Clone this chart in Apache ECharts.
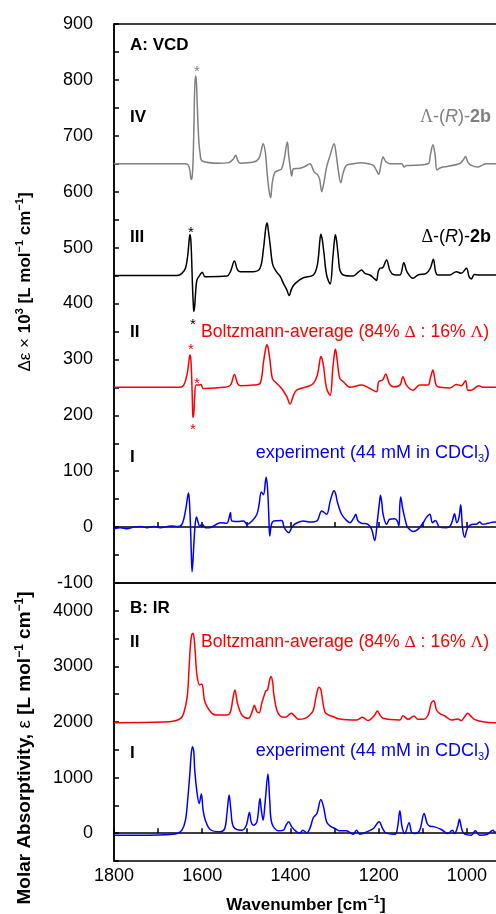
<!DOCTYPE html>
<html>
<head>
<meta charset="utf-8">
<script src="https://cdn.jsdelivr.net/npm/echarts@6/dist/echarts.min.js"></script>
<style>
  html, body { margin: 0; padding: 0; background: #fff; overflow: hidden; }
  #chart { width: 520px; height: 914px; }
</style>
</head>
<body>
<div id="chart"></div>
<script>
// VCD trace IV: Λ-(R)-2b (offset +650)
const wnIV = [1800,1640,1632,1628,1625,1623,1621,1619,1617,1615,1613,1611,1608,1605,1600,1560,1540,1530,1524,1519,1514,1484,1472,1466,1462,1457,1453,1449,1445,1441,1435,1427,1420,1414,1407,1404,1400,1397,1393,1378,1367,1356,1346,1339,1334,1329,1324,1318,1310,1301,1297,1292,1286,1280,1273,1258,1239,1224,1212,1205,1200,1195,1190,1184,1175,1148,1142,1137,1130,1088,1083,1077,1072,1068,1062,1054,1017,1009,1003,998,990,975,964,956,900]
const valIV = [650,650,648,638,622,625,650,710,785,807,795,750,695,670,655,651,652,658,665,655,651,653,659,674,686,671,635,605,589,617,635,638,641,659,689,665,641,628,641,642,645,650,635,631,623,600,617,644,665,686,671,641,616,635,647,650,652,650,647,638,631,647,662,654,650,650,644,647,647,650,665,684,665,639,642,644,650,656,663,653,647,644,648,650,650]

// VCD trace III: Δ-(R)-2b (offset +450)
const wnIII = [1800,1657,1646,1638,1633,1630,1628,1626,1624,1622,1620,1619,1617,1615,1612,1606,1600,1594,1589,1544,1536,1527,1520,1514,1484,1469,1461,1456,1453,1450,1446,1440,1431,1423,1416,1408,1403,1397,1389,1371,1348,1339,1333,1331,1328,1324,1318,1310,1304,1300,1298,1295,1291,1288,1280,1258,1246,1239,1231,1220,1209,1205,1201,1197,1191,1182,1175,1167,1152,1143,1136,1122,1111,1092,1083,1076,1071,1066,1039,1024,1013,1001,995,990,983,971,900]
const valIII = [450,450,454,463,485,510,523,515,480,430,395,386,396,420,442,450,456,448,448,449,457,476,460,457,457,463,499,535,544,530,505,469,456,448,436,424,414,427,436,446,451,469,515,524,515,490,451,435,481,515,523,510,480,460,451,449,456,460,454,451,444,441,457,463,464,478,460,452,451,473,457,445,451,454,463,479,457,451,451,457,454,463,448,444,452,451,451]

// VCD trace II: Boltzmann-average (offset +250)
const wnII = [1800,1653,1642,1634,1630,1628,1626,1624,1622,1621,1619,1617,1614,1608,1603,1598,1593,1551,1536,1527,1520,1514,1484,1469,1461,1456,1453,1450,1447,1441,1435,1420,1408,1401,1393,1386,1363,1348,1339,1333,1331,1328,1325,1318,1310,1304,1300,1298,1295,1292,1288,1280,1265,1239,1220,1205,1200,1191,1184,1176,1167,1152,1145,1137,1122,1107,1088,1083,1077,1071,1066,1039,1024,1013,1003,998,990,973,964,900]
const valII = [250,250,254,275,298,308,302,270,215,196,205,235,254,254,255,248,248,250,254,273,257,253,254,257,296,320,326,318,302,266,260,248,233,220,236,245,251,257,272,300,305,300,288,248,236,284,312,318,305,285,266,260,250,254,248,242,260,263,274,257,251,254,269,254,245,254,254,266,281,257,251,249,255,253,262,245,245,253,250,250]

// VCD trace I: experiment
const wnI = [1800,1785,1770,1755,1740,1725,1710,1695,1679,1668,1657,1646,1638,1633,1631,1629,1627,1625,1623,1621,1619,1616,1613,1609,1606,1600,1593,1585,1574,1559,1544,1540,1536,1533,1521,1506,1499,1487,1476,1471,1466,1461,1457,1455,1452,1449,1447,1443,1438,1420,1414,1404,1397,1389,1371,1356,1340,1329,1318,1310,1304,1301,1297,1294,1284,1273,1265,1256,1252,1247,1239,1224,1216,1209,1203,1198,1196,1193,1190,1182,1175,1163,1158,1154,1152,1150,1146,1141,1136,1130,1122,1111,1099,1092,1084,1078,1071,1062,1047,1038,1033,1028,1023,1018,1014,1010,1005,998,986,979,971,964,956,946,937,900]
const valI = [-3,-1,-3,0,1,-1,1,-1,1,2,1,5,29,55,61,45,11,-40,-80,-60,-31,5,18,8,2,5,-1,-1,2,8,7,14,26,11,10,11,5,11,23,41,63,58,80,89,70,20,-16,5,11,12,-1,-10,-1,6,11,9,11,29,23,46,62,65,58,46,23,12,8,17,23,11,7,5,-4,-24,11,45,57,45,23,5,14,15,11,2,40,54,35,17,2,-4,-8,-4,8,17,23,8,12,0,-1,2,11,24,8,17,40,-1,-18,-1,5,5,9,5,6,8,9,0,2]

// IR trace II: Boltzmann-average (offset +2000)
const wnIR2 = [1800,1687,1661,1649,1642,1634,1630,1627,1624,1621,1618,1615,1612,1606,1601,1595,1589,1578,1566,1544,1536,1531,1526,1520,1510,1495,1487,1482,1476,1471,1465,1456,1452,1447,1444,1440,1438,1431,1423,1412,1398,1389,1382,1367,1356,1348,1342,1338,1335,1331,1329,1322,1314,1307,1288,1250,1237,1224,1209,1203,1197,1190,1152,1145,1133,1120,1111,1099,1088,1081,1075,1069,1062,1050,1035,1020,1013,1005,998,990,983,964,937,900]
const valIR2 = [1988,2000,2024,2066,2156,2456,2950,3350,3560,3598,3480,3150,2850,2667,2685,2396,2276,2156,2126,2126,2186,2396,2577,2336,2126,2066,2186,2300,2186,2168,2336,2558,2577,2760,2817,2700,2517,2216,2108,2084,2156,2096,2048,2066,2126,2216,2456,2590,2625,2580,2486,2186,2126,2108,2054,2036,2084,2024,2126,2198,2126,2066,2036,2114,2048,2108,2048,2048,2126,2336,2384,2216,2156,2108,2036,2054,2024,2096,2156,2096,2048,2006,1988,1988]

// IR trace I: experiment
const wnIR1 = [1800,1725,1687,1657,1646,1638,1633,1628,1625,1622,1619,1617,1612,1607,1602,1598,1593,1582,1559,1549,1544,1539,1535,1529,1510,1500,1493,1489,1484,1476,1469,1466,1462,1457,1451,1447,1442,1427,1416,1410,1404,1397,1386,1378,1372,1363,1356,1348,1340,1331,1325,1318,1310,1299,1288,1273,1258,1250,1243,1227,1212,1199,1191,1184,1163,1157,1152,1147,1141,1131,1125,1118,1107,1097,1090,1084,1073,1058,1043,1033,1028,1021,1017,1011,1005,990,981,971,953,941,937,900]
const valIR1 = [-36,-36,-30,-6,54,234,595,1075,1420,1555,1450,1135,745,535,703,414,234,66,24,84,354,685,414,114,54,144,372,204,144,204,625,414,234,595,1063,595,174,42,54,144,204,114,24,6,54,6,84,282,354,607,474,204,126,84,42,42,-18,54,-18,24,84,204,84,6,-18,114,402,114,-6,186,6,-6,54,354,174,126,114,66,-6,54,-6,114,252,54,-18,-36,42,-36,-18,54,24,0]

const FONT = 'Liberation Sans'
const SERIF = 'Liberation Serif'

const pairs = (w, v) => w.map((x, i) => [x, v[i]])

const chart = echarts.init(document.getElementById('chart'))

const tok = (size, weight, style, family) => ({
  fontSize: size,
  fontWeight: weight || 'normal',
  fontStyle: style || 'normal',
  fontFamily: family || FONT,
  lineHeight: size + 4
})
const sup = (size, weight) => ({
  fontSize: size,
  fontWeight: weight || 'normal',
  fontFamily: FONT,
  lineHeight: size,
  verticalAlign: 'top'
})
const sub = (size, weight) => ({
  fontSize: size,
  fontWeight: weight || 'normal',
  fontFamily: FONT,
  lineHeight: size,
  verticalAlign: 'bottom'
})

const richOf = size => ({
  n: tok(size),
  g: tok(size, 'normal', 'normal', SERIF),
  i: tok(size, 'normal', 'italic'),
  b: tok(size, 'bold'),
  s: sub(11)
})

// simple bold labels inside the panels
const panelText = (x, y, text) => ({
  type: 'text', x, y,
  style: { text, fontSize: 17, fontWeight: 'bold', fontFamily: FONT, fill: '#000', verticalAlign: 'middle' }
})
const star = (x, y, color) => ({
  type: 'text', x, y,
  style: { text: '*', fontSize: 15, fontFamily: FONT, fill: color, align: 'center', verticalAlign: 'middle' }
})
const richText = (x, y, text, color, align, size) => ({
  type: 'text', x, y,
  style: { text, rich: richOf(size || 18), fill: color, align: align || 'left', verticalAlign: 'middle' }
})

const axisStyle = { lineStyle: { color: '#000', width: 1.5 } }
const tickStyle = { inside: true, length: 5, lineStyle: { color: '#000', width: 1.5 } }
const labelStyle = { fontSize: 18, fontFamily: FONT, color: '#000' }

const lineSeries = (name, data, color, xi) => ({
  name, type: 'line', data,
  xAxisIndex: xi, yAxisIndex: xi,
  showSymbol: false, symbol: 'none',
  smooth: 0.35,
  lineStyle: { color, width: 1.5 },
  z: 3
})

const option = {
  animation: false,
  grid: [
    { left: 114, top: 24, width: 397, height: 559, show: true, borderColor: '#000', borderWidth: 1.5 },
    { left: 114, top: 583, width: 397, height: 278, show: true, borderColor: '#000', borderWidth: 1.5 }
  ],
  xAxis: [
    {
      gridIndex: 0, type: 'value', min: 900, max: 1800, interval: 100, inverse: true,
      axisLine: axisStyle, axisTick: tickStyle, axisLabel: { show: false }, splitLine: { show: false }
    },
    {
      gridIndex: 1, type: 'value', min: 900, max: 1800, interval: 100, inverse: true,
      axisLine: axisStyle, axisTick: tickStyle,
      axisLabel: { ...labelStyle, margin: 6, formatter: v => (v % 200 === 0 ? String(v) : '') },
      splitLine: { show: false }
    }
  ],
  yAxis: [
    {
      gridIndex: 0, type: 'value', min: -100, max: 900, interval: 50,
      axisLine: axisStyle, axisTick: tickStyle,
      axisLabel: { ...labelStyle, margin: 21, formatter: v => (v % 100 === 0 ? String(v) : '') },
      splitLine: { show: false }
    },
    {
      gridIndex: 1, type: 'value', min: -500, max: 4500, interval: 500,
      axisLine: axisStyle, axisTick: tickStyle,
      axisLabel: { ...labelStyle, margin: 21, formatter: v => (v % 1000 === 0 ? String(v) : '') },
      splitLine: { show: false }
    }
  ],
  series: [
    lineSeries('IV', pairs(wnIV, valIV), '#808080', 0),
    lineSeries('III', pairs(wnIII, valIII), '#000000', 0),
    lineSeries('II', pairs(wnII, valII), '#ff0000', 0),
    lineSeries('I', pairs(wnI, valI), '#0000ff', 0),
    lineSeries('IR II', pairs(wnIR2, valIR2), '#ff0000', 1),
    lineSeries('IR I', pairs(wnIR1, valIR1), '#0000ff', 1)
  ],
  graphic: [
    panelText(130, 45, 'A: VCD'),
    panelText(130, 117, 'IV'),
    panelText(130, 237, 'III'),
    panelText(130, 332, 'II'),
    panelText(130, 457, 'I'),
    panelText(130, 608, 'B: IR'),
    panelText(130, 642, 'II'),
    panelText(130, 753, 'I'),
    richText(491, 117, '{g|Λ}{n|-(}{i|R}{n|)-}{b|2b}', '#808080', 'right'),
    richText(491, 237, '{g|Δ}{n|-(}{i|R}{n|)-}{b|2b}', '#000000', 'right'),
    richText(201, 332, '{n|Boltzmann-average (84% }{g|Δ}{n| : 16% }{g|Λ}{n|)}', '#ff0000', 'left', 17.6),
    richText(490, 453, '{n|experiment (44 mM in CDCl}{s|3}{n|)}', '#0000ff', 'right'),
    richText(201, 642, '{n|Boltzmann-average (84% }{g|Δ}{n| : 16% }{g|Λ}{n|)}', '#ff0000', 'left', 17.6),
    richText(490, 751, '{n|experiment (44 mM in CDCl}{s|3}{n|)}', '#0000ff', 'right'),
    star(197, 72, '#808080'),
    star(191, 233, '#000000'),
    star(193, 325, '#000000'),
    star(191, 350, '#ff0000'),
    star(197, 384, '#ff0000'),
    star(193, 430, '#ff0000'),
    {
      type: 'text', x: 25, y: 282, rotation: Math.PI / 2,
      style: {
        text: '{n|Δε × }{b|10}{p|3}{b| [L mol}{p|−1}{b| cm}{p|−1}{b|]}',
        fill: '#000', align: 'center', verticalAlign: 'middle',
        rich: {
          n: tok(17), b: tok(17, 'bold'), p: sup(11, 'bold')
        }
      }
    },
    {
      type: 'text', x: 25, y: 748, rotation: Math.PI / 2,
      style: {
        text: '{b|Molar Absorptivity, }{n|ε}{b| [L mol}{p|−1}{b| cm}{p|−1}{b|]}',
        fill: '#000', align: 'center', verticalAlign: 'middle',
        rich: {
          n: tok(19), b: tok(19, 'bold'), p: sup(12, 'bold')
        }
      }
    },
    {
      type: 'text', x: 306, y: 905,
      style: {
        text: '{b|Wavenumber [cm}{p|−1}{b|]}',
        fill: '#000', align: 'center', verticalAlign: 'middle',
        rich: { b: tok(17, 'bold'), p: sup(11, 'bold') }
      }
    }
  ]
}

chart.setOption(option)
</script>
</body>
</html>
